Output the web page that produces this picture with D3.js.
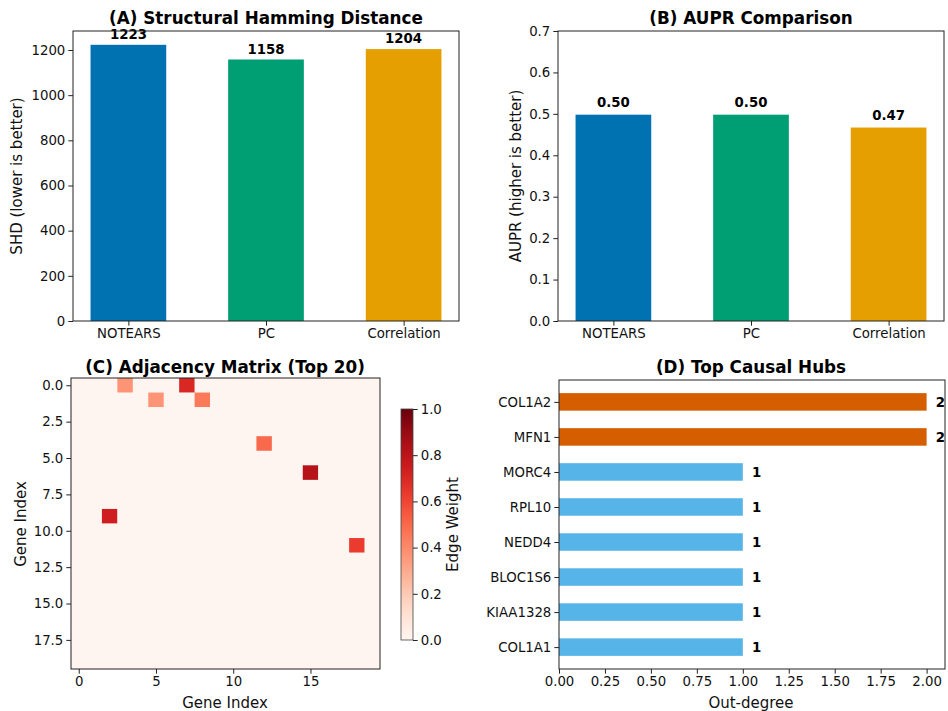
<!DOCTYPE html>
<html>
<head>
<meta charset="utf-8">
<script src="https://cdn.jsdelivr.net/npm/d3@7"></script>
<style>
  body { margin: 0; background: #fff; }
  svg, svg text { font-family: "DejaVu Sans", sans-serif; }
  .tick text { font-size: 13.3px; fill: #111; font-family: "DejaVu Sans", sans-serif; }
  .tick line { stroke: #222; }
  .domain { display: none; }
</style>
</head>
<body>
<svg id="fig" width="948" height="711"></svg>
<script>
// Panel A/B: method comparison
const methods = ["NOTEARS", "PC", "Correlation"];
const methodColors = ["#0072B2", "#009E73", "#E69F00"];
const shdValues = [1223, 1158, 1204];
const auprValues = [0.498, 0.498, 0.467];
const auprLabels = ["0.50", "0.50", "0.47"];

// Panel C: non-zero entries of the top-20 adjacency matrix [row, col, weight]
const matrixSize = 20;
const edgeRows = [0, 0, 1, 1, 4, 6, 9, 11];
const edgeCols = [3, 7, 5, 8, 12, 15, 2, 18];
const edgeWeights = [0.37, 0.70, 0.37, 0.45, 0.50, 0.82, 0.74, 0.63];
const heatTicksX = [0, 5, 10, 15];
const heatTicksY = [0, 2.5, 5, 7.5, 10, 12.5, 15, 17.5];
const colorbarTicks = [0, 0.2, 0.4, 0.6, 0.8, 1.0];

// Panel D: top causal hubs by out-degree
const hubGenes = ["COL1A2", "MFN1", "MORC4", "RPL10", "NEDD4", "BLOC1S6", "KIAA1328", "COL1A1"];
const hubDegrees = [2, 2, 1, 1, 1, 1, 1, 1];
const hubTicks = [0, 0.25, 0.5, 0.75, 1.0, 1.25, 1.5, 1.75, 2.0];

const svg = d3.select("#fig");
const TICK = 4.7;

function frame(g, x0, y0, x1, y1) {
  g.append("rect").attr("x", x0).attr("y", y0).attr("width", x1 - x0).attr("height", y1 - y0)
    .attr("fill", "none").attr("stroke", "#222").attr("stroke-width", 1);
}
function title(text, cx, y) {
  svg.append("text").attr("x", cx).attr("y", y).attr("text-anchor", "middle")
    .attr("font-size", 16.8).attr("font-weight", "bold").text(text);
}
function ylabel(text, x, cy) {
  svg.append("text").attr("transform", `translate(${x},${cy}) rotate(-90)`)
    .attr("text-anchor", "middle").attr("font-size", 15).attr("fill", "#111").text(text);
}
function xlabel(text, cx, y) {
  svg.append("text").attr("x", cx).attr("y", y).attr("text-anchor", "middle")
    .attr("font-size", 15).attr("fill", "#111").text(text);
}

// ---------- bar comparison panels ----------
function barPanel(opt) {
  const { left, right, top, bottom, values, labels, yMax, ticks, fmt, labelPad } = opt;
  const g = svg.append("g");
  const bw = 0.55;
  const margin = 0.05 * (methods.length - 1 + bw);
  const x = d3.scaleLinear().domain([-bw / 2 - margin, methods.length - 1 + bw / 2 + margin]).range([left, right]);
  const y = d3.scaleLinear().domain([0, yMax]).range([bottom, top]);

  g.selectAll("rect.bar").data(values).join("rect").attr("class", "bar")
    .attr("x", (d, i) => x(i - bw / 2)).attr("width", (d, i) => x(i + bw / 2) - x(i - bw / 2))
    .attr("y", d => y(d)).attr("height", d => y(0) - y(d))
    .attr("fill", (d, i) => methodColors[i]);

  g.selectAll("text.val").data(values).join("text").attr("class", "val")
    .attr("x", (d, i) => x(i)).attr("y", d => y(d + labelPad) - 3.5)
    .attr("text-anchor", "middle").attr("font-size", 13.3).attr("font-weight", "bold")
    .text((d, i) => labels[i]);

  g.append("g").attr("transform", `translate(0,${bottom})`)
    .call(d3.axisBottom(x).tickValues(methods.map((d, i) => i)).tickFormat(i => methods[i]).tickSizeOuter(0).tickSize(TICK).tickPadding(3));
  g.append("g").attr("transform", `translate(${left},0)`)
    .call(d3.axisLeft(y).tickValues(ticks).tickFormat(fmt).tickSizeOuter(0).tickSize(TICK).tickPadding(3));
  frame(g, left, top, right, bottom);
}

barPanel({ left: 73, right: 459, top: 31, bottom: 321, values: shdValues,
  labels: shdValues.map(String), yMax: 1223 * 1.05, ticks: [0, 200, 400, 600, 800, 1000, 1200],
  fmt: d3.format("d"), labelPad: 10 });
title("(A) Structural Hamming Distance", 266, 24);
ylabel("SHD (lower is better)", 22, 176);

barPanel({ left: 558, right: 944, top: 31, bottom: 321, values: auprValues,
  labels: auprLabels, yMax: 0.7, ticks: d3.range(0, 0.71, 0.1),
  fmt: d3.format(".1f"), labelPad: 0.01 });
title("(B) AUPR Comparison", 751, 24);
ylabel("AUPR (higher is better)", 521, 176);

// ---------- adjacency heatmap ----------
{
  const left = 71, right = 380, top = 378, bottom = 669;
  const g = svg.append("g");
  const x = d3.scaleLinear().domain([-0.5, matrixSize - 0.5]).range([left, right]);
  const y = d3.scaleLinear().domain([-0.5, matrixSize - 0.5]).range([top, bottom]);
  const color = d3.scaleSequential(d3.interpolateReds).domain([0, 1]);

  const matrix = d3.range(matrixSize).map(() => new Array(matrixSize).fill(0));
  edgeRows.forEach((r, i) => { matrix[r][edgeCols[i]] = edgeWeights[i]; });
  const cells = [];
  matrix.forEach((row, r) => row.forEach((v, c) => cells.push({ r, c, v })));

  g.selectAll("rect.cell").data(cells).join("rect").attr("class", "cell")
    .attr("x", d => x(d.c - 0.5)).attr("y", d => y(d.r - 0.5))
    .attr("width", x(1) - x(0) + 0.3).attr("height", y(1) - y(0) + 0.3)
    .attr("fill", d => color(d.v));

  g.append("g").attr("transform", `translate(0,${bottom})`)
    .call(d3.axisBottom(x).tickValues(heatTicksX).tickFormat(d3.format("d")).tickSizeOuter(0).tickSize(TICK).tickPadding(3));
  g.append("g").attr("transform", `translate(${left},0)`)
    .call(d3.axisLeft(y).tickValues(heatTicksY).tickFormat(d3.format(".1f")).tickSizeOuter(0).tickSize(TICK).tickPadding(3));
  frame(g, left, top, right, bottom);

  // colorbar
  const cbL = 401, cbR = 413, cbT = 409, cbB = 640;
  const defs = svg.append("defs");
  const grad = defs.append("linearGradient").attr("id", "redsGrad")
    .attr("x1", 0).attr("y1", 1).attr("x2", 0).attr("y2", 0);
  d3.range(0, 1.001, 0.05).forEach(t => grad.append("stop").attr("offset", t).attr("stop-color", color(t)));
  svg.append("rect").attr("x", cbL).attr("y", cbT).attr("width", cbR - cbL).attr("height", cbB - cbT)
    .attr("fill", "url(#redsGrad)").attr("stroke", "#444").attr("stroke-width", 0.8);
  const cy = d3.scaleLinear().domain([0, 1]).range([cbB, cbT]);
  svg.append("g").attr("transform", `translate(${cbR},0)`)
    .call(d3.axisRight(cy).tickValues(colorbarTicks).tickFormat(d3.format(".1f")).tickSizeOuter(0).tickSize(TICK).tickPadding(3));
  ylabel("Edge Weight", 458, (cbT + cbB) / 2);

  title("(C) Adjacency Matrix (Top 20)", 225, 373);
  ylabel("Gene Index", 26, 524);
  xlabel("Gene Index", 225, 708);
}

// ---------- causal hubs ----------
{
  const left = 559, right = 945, top = 380, bottom = 669;
  const g = svg.append("g");
  const bh = 0.5;
  const n = hubGenes.length;
  const pad = 0.05 * (n - 1 + bh);
  const x = d3.scaleLinear().domain([0, 2 * 1.05]).range([left, right]);
  const y = d3.scaleLinear().domain([-bh / 2 - pad, n - 1 + bh / 2 + pad]).range([top, bottom]);

  g.selectAll("rect.hub").data(hubDegrees).join("rect").attr("class", "hub")
    .attr("x", x(0)).attr("width", d => x(d) - x(0))
    .attr("y", (d, i) => y(i - bh / 2)).attr("height", (d, i) => y(i + bh / 2) - y(i - bh / 2))
    .attr("fill", d => d >= 2 ? "#D55E00" : "#56B4E9");

  g.selectAll("text.hv").data(hubDegrees).join("text").attr("class", "hv")
    .attr("x", d => x(d + 0.05)).attr("y", (d, i) => y(i)).attr("dy", "0.35em")
    .attr("font-size", 13.3).attr("font-weight", "bold").text(d => d);

  g.append("g").attr("transform", `translate(0,${bottom})`)
    .call(d3.axisBottom(x).tickValues(hubTicks).tickFormat(d3.format(".2f")).tickSizeOuter(0).tickSize(TICK).tickPadding(3));
  g.append("g").attr("transform", `translate(${left},0)`)
    .call(d3.axisLeft(y).tickValues(d3.range(n)).tickFormat(i => hubGenes[i]).tickSizeOuter(0).tickSize(TICK).tickPadding(3));
  frame(g, left, top, right, bottom);

  title("(D) Top Causal Hubs", 751, 373);
  xlabel("Out-degree", 751, 708);
}
</script>
</body>
</html>
